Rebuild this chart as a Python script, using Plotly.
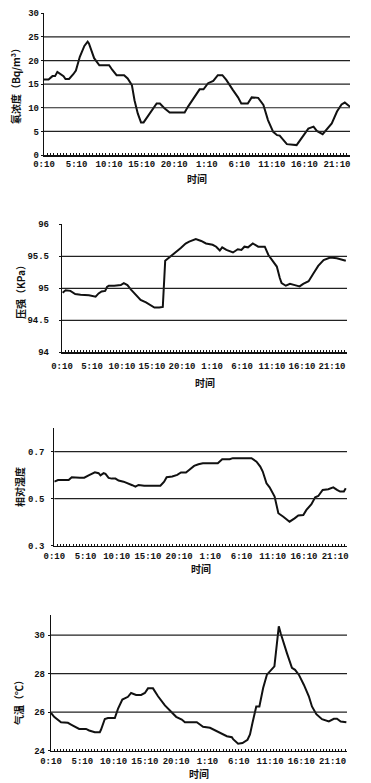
import plotly.graph_objects as go

# ---------------- data (hours since 0:10 of day 1) ----------------
TICK_HOURS = [0, 5, 10, 15, 20, 25, 30, 35, 40, 45]
TICK_LABELS = ["0:10", "5:10", "10:10", "15:10", "20:10", "1:10", "6:10", "11:10", "16:10", "21:10"]

radon_h = [0, 0.7, 1.3, 1.7, 2.05, 2.6, 3.0, 3.3, 3.85, 4.5, 4.9, 5.5, 6.2, 6.7, 6.9, 7.7, 8.5,
           9.0, 10.0, 10.5, 11.15, 12.3, 12.85, 13.5, 13.9, 14.4, 14.9, 15.3, 16.2, 17.0, 17.3,
           17.8, 18.5, 19.3, 20.6, 21.6, 22.1, 23.1, 23.9, 24.5, 25.2, 26.0, 26.7, 27.4, 28.0,
           29.0, 29.8, 30.3, 31.3, 31.9, 32.9, 33.7, 34.4, 35.2, 35.8, 36.2, 37.3, 38.8, 39.8,
           40.6, 41.4, 41.9, 42.8, 43.4, 44.2, 45.0, 45.7, 46.2, 47.0]
radon = [16.0, 16.0, 16.7, 16.7, 17.6, 17.0, 16.7, 16.1, 16.1, 17.1, 17.9, 20.8, 23.1, 24.0, 23.6,
         20.5, 19.0, 19.0, 19.0, 18.0, 16.9, 16.9, 16.2, 14.8, 11.6, 8.8, 6.9, 6.9, 8.8, 10.4,
         10.9, 10.9, 9.9, 9.0, 9.0, 9.0, 10.2, 12.3, 13.9, 13.9, 15.2, 15.7, 16.9, 16.9, 15.9,
         13.8, 12.2, 10.9, 10.9, 12.2, 12.1, 10.6, 7.4, 4.9, 4.2, 4.1, 2.3, 2.1, 3.9, 5.6, 6.0,
         5.1, 4.4, 5.3, 6.7, 9.2, 10.7, 11.1, 10.2]

press_h = [0.1, 0.6, 1.4, 2.2, 3.1, 4.5, 5.6, 6.1, 6.6, 7.2, 7.5, 7.8, 8.7, 9.2, 9.8, 10.3, 10.9,
           11.5, 12.3, 13.1, 14.0, 15.4, 16.2, 16.8, 17.2, 17.9, 18.7, 19.8, 20.6, 21.2, 22.3,
           23.2, 24.0, 25.1, 25.7, 26.3, 26.7, 27.4, 28.5, 29.3, 29.9, 30.4, 31.0, 31.8, 32.7,
           33.8, 34.4, 35.1, 35.8, 36.3, 36.6, 37.3, 38.0, 38.8, 39.6, 40.2, 41.1, 41.9, 42.7,
           43.6, 44.7, 45.8, 46.6, 47.3]
press = [94.93, 94.97, 94.96, 94.91, 94.90, 94.89, 94.87, 94.92, 94.95, 94.96, 95.02, 95.04,
         95.04, 95.04, 95.05, 95.08, 95.05, 94.98, 94.90, 94.82, 94.78, 94.70, 94.70, 94.71,
         95.43, 95.48, 95.55, 95.63, 95.70, 95.73, 95.77, 95.74, 95.70, 95.68, 95.65, 95.59,
         95.64, 95.60, 95.56, 95.61, 95.60, 95.65, 95.64, 95.70, 95.65, 95.65, 95.52, 95.43,
         95.34, 95.16, 95.08, 95.04, 95.07, 95.05, 95.03, 95.07, 95.11, 95.23, 95.35, 95.44,
         95.48, 95.47, 95.45, 95.43]

hum_h = [0, 0.6, 2.3, 2.8, 4.1, 4.8, 5.5, 6.0, 6.5, 7.1, 7.4, 7.9, 8.2, 8.7, 9.2, 9.8, 10.3,
         11.1, 11.9, 12.5, 13.0, 13.5, 14.4, 17.0, 17.6, 18.0, 18.9, 19.7, 20.3, 21.1, 21.6,
         22.4, 23.1, 23.8, 26.2, 26.9, 28.1, 28.6, 31.6, 32.4, 33.0, 33.4, 34.0, 34.5, 35.3,
         35.9, 36.7, 37.7, 38.5, 39.1, 39.9, 40.4, 41.2, 41.8, 42.3, 43.0, 43.9, 44.7, 45.3,
         45.8, 46.4, 46.7]
hum = [0.572, 0.579, 0.579, 0.591, 0.589, 0.589, 0.599, 0.605, 0.612, 0.608, 0.599, 0.608,
       0.605, 0.588, 0.585, 0.585, 0.577, 0.572, 0.565, 0.557, 0.551, 0.558, 0.555, 0.555,
       0.572, 0.591, 0.594, 0.601, 0.611, 0.611, 0.622, 0.639, 0.646, 0.650, 0.650, 0.667,
       0.667, 0.672, 0.672, 0.657, 0.636, 0.615, 0.565, 0.548, 0.509, 0.438, 0.423, 0.402,
       0.416, 0.428, 0.430, 0.452, 0.476, 0.506, 0.511, 0.537, 0.540, 0.548, 0.537, 0.530,
       0.530, 0.544]

temp_h = [0, 0.5, 1.6, 2.7, 3.2, 4.0, 4.5, 5.6, 6.1, 7.0, 7.8, 8.0, 8.6, 9.1, 10.2, 10.7, 11.4,
          12.3, 12.8, 13.6, 14.4, 15.0, 15.5, 16.3, 17.1, 18.2, 19.3, 20.0, 20.9, 21.4, 21.9,
          23.3, 23.8, 24.3, 25.4, 26.5, 27.3, 28.1, 28.9, 29.1, 29.9, 30.6, 31.4, 31.8, 32.2,
          32.8, 33.3, 33.9, 34.5, 35.0, 35.7, 36.4, 36.7, 37.7, 38.5, 39.0, 39.6, 40.4, 41.2,
          41.7, 42.4, 43.3, 44.4, 45.2, 45.7, 46.3, 47.2]
temp = [25.97, 25.76, 25.48, 25.45, 25.36, 25.19, 25.13, 25.13, 25.05, 24.96, 24.96, 25.10,
        25.65, 25.70, 25.70, 26.17, 26.66, 26.80, 27.00, 26.90, 26.90, 27.00, 27.24, 27.24,
        26.83, 26.35, 25.97, 25.76, 25.62, 25.48, 25.48, 25.48, 25.36, 25.24, 25.19, 25.01,
        24.84, 24.75, 24.70, 24.60, 24.36, 24.40, 24.57, 24.84, 25.45, 26.30, 26.30, 27.26,
        27.95, 28.12, 28.38, 30.46, 30.10, 29.07, 28.30, 28.20, 27.95, 27.43, 26.83, 26.30,
        25.90, 25.64, 25.52, 25.66, 25.66, 25.52, 25.48]

Y_TITLES = ["氡浓度（Bq/m³）", "压强（KPa）", "相对湿度", "气温（℃）"]
X_TITLE = "时间"

Y_TICKS = [[0, 5, 10, 15, 20, 25, 30], [94, 94.5, 95, 95.5, 96], [0.3, 0.5, 0.7], [24, 26, 28, 30]]
Y_TICKTEXT = [["0", "5", "10", "15", "20", "25", "30"], ["94", "94.5", "95", "95.5", "96"],
              ["0.3", "0.5", "0.7"], ["24", "26", "28", "30"]]
Y_RANGES = [[0, 30], [94, 96], [0.3, 0.8], [24, 31.05]]
GRID_VALUES = [[5, 10, 15, 20, 25], [94.5, 95, 95.5], [0.5, 0.7], [26, 28, 30]]

# ---------------- layout geometry (pixels) ----------------
W, H = 371, 783
panels = [
    dict(x0=44, x1=350, top=13.3, bot=155, xmax=47.0, ystand=0, xstand=0, title_y=178, ytitle_x=15, ytitle_y=84),
    dict(x0=62, x1=347, top=224.3, bot=352.3, xmax=47.5, ystand=8, xstand=4, title_y=382, ytitle_x=20, ytitle_y=290),
    dict(x0=54.3, x1=347, top=428, bot=545.7, xmax=46.9, ystand=5, xstand=1, title_y=568, ytitle_x=20, ytitle_y=487),
    dict(x0=51, x1=347, top=615, bot=750.7, xmax=47.3, ystand=1, xstand=1, title_y=773, ytitle_x=18, ytitle_y=700),
]

series = [(radon_h, radon), (press_h, press), (hum_h, hum), (temp_h, temp)]

fig = go.Figure()
TICKFONT = dict(family="Liberation Mono, DejaVu Sans Mono, monospace", size=9, color="#111", weight="bold")
CJK = "Noto Sans CJK SC"
shapes = []
annotations = []

for i, (p, (xs, ys)) in enumerate(zip(panels, series)):
    n = "" if i == 0 else str(i + 1)
    fig.add_trace(go.Scatter(x=xs, y=ys, mode="lines", line=dict(color="#111", width=2),
                             xaxis="x" + n, yaxis="y" + n, showlegend=False, hoverinfo="skip"))
    xd = [p["x0"] / W, p["x1"] / W]
    yd = [1 - p["bot"] / H, 1 - p["top"] / H]
    fig.update_layout(**{
        "xaxis" + n: dict(domain=xd, anchor="y" + n, range=[0, p["xmax"]], automargin=False,
                          tickmode="array", tickvals=TICK_HOURS, ticktext=TICK_LABELS, tickangle=0,
                          showline=True, linecolor="#111", linewidth=1.5,
                          ticks="inside", ticklen=2, tickcolor="#111", tickwidth=1,
                          minor=dict(tickmode="linear", tick0=0, dtick=0.5, ticks="inside",
                                     ticklen=2, tickcolor="#111", tickwidth=1),
                          ticklabelstandoff=p["xstand"],
                          showgrid=False, zeroline=False, tickfont=TICKFONT, fixedrange=True),
        "yaxis" + n: dict(domain=yd, anchor="x" + n, range=Y_RANGES[i], automargin=False,
                          tickmode="array", tickvals=Y_TICKS[i], ticktext=Y_TICKTEXT[i],
                          showline=True, linecolor="#111", linewidth=1.2,
                          ticks="outside", ticklen=2, tickcolor="#111",
                          ticklabelstandoff=p["ystand"],
                          showgrid=False, zeroline=False, tickfont=TICKFONT, fixedrange=True),
    })
    for g in GRID_VALUES[i]:
        shapes.append(dict(type="line", xref=("x" + n) + " domain", yref="y" + n,
                           x0=0, x1=1, y0=g, y1=g, line=dict(color="#222", width=1.2)))
    annotations.append(dict(text=X_TITLE, xref="paper", yref="paper",
                            x=(p["x0"] + p["x1"]) / 2 / W, y=1 - p["title_y"] / H,
                            xanchor="center", yanchor="middle",
                            showarrow=False, font=dict(family=CJK, size=10, color="#111", weight="bold")))
    annotations.append(dict(text=Y_TITLES[i], xref="paper", yref="paper", textangle=-90,
                            x=p["ytitle_x"] / W, y=1 - p["ytitle_y"] / H,
                            xanchor="center", yanchor="middle",
                            showarrow=False, font=dict(family=CJK, size=10, color="#111", weight="bold")))

fig.update_layout(width=W, height=H, margin=dict(l=0, r=0, t=0, b=0, autoexpand=False),
                  paper_bgcolor="white", plot_bgcolor="white", hovermode=False,
                  shapes=shapes, annotations=annotations)
fig.write_html("out.html", config={"displayModeBar": False, "staticPlot": True},
               post_script="document.body.style.margin='0';document.body.style.overflow='hidden';")
